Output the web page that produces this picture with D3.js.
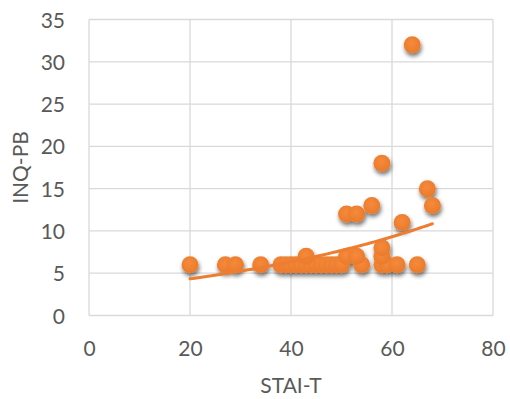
<!DOCTYPE html>
<html>
<head>
<meta charset="utf-8">
<script src="https://cdn.jsdelivr.net/npm/d3@7"></script>
<style>
  html, body { margin: 0; padding: 0; background: #fff; }
  svg text { font-family: Lato, "Open Sans", sans-serif; fill: #595959; }
</style>
</head>
<body>
<svg id="chart" width="510" height="399"></svg>
<script>
// STAI-T scores (x) and INQ-PB scores (y)
const staiT = [20, 27, 29, 34, 38, 39, 40, 41, 42, 43, 44, 45, 46, 47, 48, 49, 50, 54, 58, 59, 61, 65,
               43, 51, 53, 58, 58, 62, 51, 53, 56, 68, 67, 58, 64];
const inqPB = [6, 6, 6, 6, 6, 6, 6, 6, 6, 6, 6, 6, 6, 6, 6, 6, 6, 6, 6, 6, 6, 6,
               7, 7, 7, 7, 8, 11, 12, 12, 13, 13, 15, 18, 32];
const xTicks = [0, 20, 40, 60, 80];
const yTicks = [0, 5, 10, 15, 20, 25, 30, 35];
const xLabel = "STAI-T";
const yLabel = "INQ-PB";

const svg = d3.select("#chart");
const margin = { left: 89, right: 17, top: 19.5, bottom: 83.5 };
const W = 510, H = 399;
const fontSize = 21;

const x = d3.scaleLinear().domain([0, 80]).range([margin.left, W - margin.right]);
const y = d3.scaleLinear().domain([0, 35]).range([H - margin.bottom, margin.top]);

const defs = svg.append("defs");
const shadow = defs.append("filter").attr("id", "shadow")
  .attr("x", "-50%").attr("y", "-50%").attr("width", "200%").attr("height", "200%");
shadow.append("feDropShadow")
  .attr("dx", 1).attr("dy", 3).attr("stdDeviation", 2)
  .attr("flood-color", "#000").attr("flood-opacity", 0.55);

const grad = defs.append("radialGradient").attr("id", "dot")
  .attr("cx", "45%").attr("cy", "40%").attr("r", "60%");
grad.append("stop").attr("offset", "0%").attr("stop-color", "#F58A3C");
grad.append("stop").attr("offset", "100%").attr("stop-color", "#EA7A2A");

// gridlines
svg.append("g").selectAll("line").data(yTicks).join("line")
  .attr("x1", x(0)).attr("x2", x(80))
  .attr("y1", d => y(d)).attr("y2", d => y(d))
  .attr("stroke", "#d9d9d9").attr("stroke-width", 1.3);
svg.append("g").selectAll("line").data(xTicks).join("line")
  .attr("y1", y(0)).attr("y2", y(35))
  .attr("x1", d => x(d)).attr("x2", d => x(d))
  .attr("stroke", "#d9d9d9").attr("stroke-width", 1.3);

// tick labels via axes
const yAxis = svg.append("g")
  .attr("transform", `translate(${x(0) - 21},0)`)
  .call(d3.axisLeft(y).tickValues(yTicks).tickSize(0).tickPadding(3).tickFormat(d3.format("d")));
yAxis.select(".domain").remove();
yAxis.selectAll("text").attr("font-size", fontSize).attr("dy", "0.36em")
  .style("font-family", "Lato, 'Open Sans', sans-serif").attr("fill", "#595959");

const xAxis = svg.append("g")
  .attr("transform", `translate(0,356)`)
  .call(d3.axisBottom(x).tickValues(xTicks).tickSize(0).tickFormat(d3.format("d")));
xAxis.select(".domain").remove();
xAxis.selectAll("text").attr("font-size", fontSize).attr("y", 0).attr("dy", 0)
  .style("font-family", "Lato, 'Open Sans', sans-serif").attr("fill", "#595959");

// axis titles
svg.append("text").attr("x", x(40)).attr("y", 393)
  .attr("text-anchor", "middle").attr("font-size", fontSize).text(xLabel);
svg.append("text")
  .attr("transform", `translate(28,${y(17.5)}) rotate(-90)`)
  .attr("text-anchor", "middle").attr("font-size", fontSize).text(yLabel);

// points
const pts = staiT.map((v, i) => ({ x: v, y: inqPB[i] }));
svg.append("g").attr("filter", "url(#shadow)")
  .selectAll("circle").data(pts).join("circle")
  .attr("cx", d => x(d.x)).attr("cy", d => y(d.y)).attr("r", 8.5)
  .attr("fill", "url(#dot)");

// exponential trendline: least squares on ln(y)
const mx = d3.mean(pts, d => d.x);
const ml = d3.mean(pts, d => Math.log(d.y));
const b = d3.sum(pts, d => (d.x - mx) * (Math.log(d.y) - ml)) / d3.sum(pts, d => (d.x - mx) ** 2);
const a = Math.exp(ml - b * mx);
const [xmin, xmax] = d3.extent(staiT);
const trend = d3.range(xmin, xmax + 0.01, 0.5).map(v => [v, a * Math.exp(b * v)]);
svg.append("path").datum(trend)
  .attr("d", d3.line().x(d => x(d[0])).y(d => y(d[1])))
  .attr("fill", "none").attr("stroke", "#ED7D31").attr("stroke-width", 3)
  .attr("stroke-linecap", "round");
</script>
</body>
</html>
